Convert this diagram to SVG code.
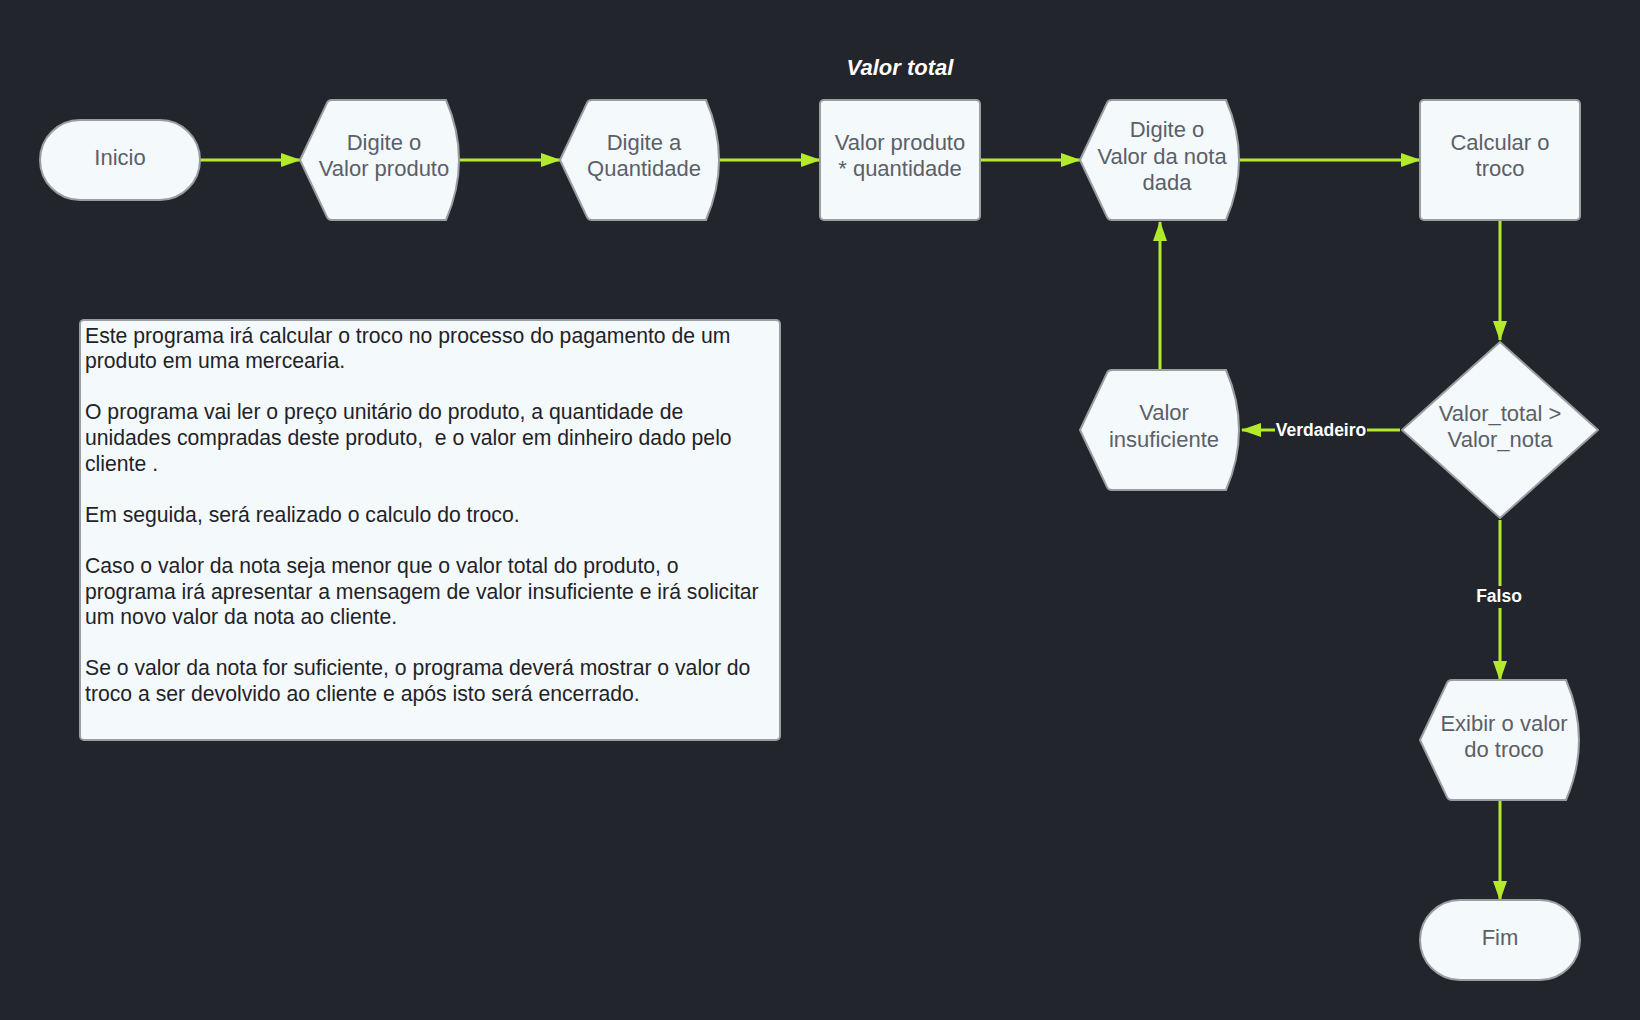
<svg xmlns="http://www.w3.org/2000/svg" width="1640" height="1020" viewBox="0 0 1640 1020">
<defs>
<marker id="ah" viewBox="0 0 20 14" refX="19" refY="7" markerWidth="20" markerHeight="14" markerUnits="userSpaceOnUse" orient="auto">
<path d="M0,0 L20,7 L0,14 Z" fill="#b3ea2c"/>
</marker>
<style>
.n{fill:#f4f9fc;stroke:#9a9ea3;stroke-width:2}
.t{font-family:"Liberation Sans",Arial,sans-serif;font-size:22px;fill:#5b6068;text-anchor:middle}
.c{stroke:#b3ea2c;stroke-width:3;fill:none;marker-end:url(#ah)}
.lb{font-family:"Liberation Sans",Arial,sans-serif;font-size:17.5px;font-weight:bold;fill:#ffffff;text-anchor:middle}
.d{font-family:"Liberation Sans",Arial,sans-serif;font-size:21.2px;fill:#1f2328;white-space:pre}
</style>
</defs>
<rect width="1640" height="1020" fill="#22262c"/>
<text x="900" y="75" font-family="Liberation Sans, Arial, sans-serif" font-size="22" font-weight="bold" font-style="italic" fill="#ffffff" text-anchor="middle">Valor total</text>
<g id="connectors">
<line class="c" x1="200" y1="160" x2="300" y2="160"/>
<line class="c" x1="460" y1="160" x2="560" y2="160"/>
<line class="c" x1="720" y1="160" x2="820" y2="160"/>
<line class="c" x1="980" y1="160" x2="1080" y2="160"/>
<line class="c" x1="1240" y1="160" x2="1420" y2="160"/>
<line class="c" x1="1500" y1="220" x2="1500" y2="340"/>
<line class="c" x1="1400" y1="430" x2="1242" y2="430"/>
<line class="c" x1="1160" y1="370" x2="1160" y2="222"/>
<line class="c" x1="1500" y1="520" x2="1500" y2="680"/>
<line class="c" x1="1500" y1="800" x2="1500" y2="900"/>
<rect x="1275" y="420" width="92" height="20" fill="#22262c"/>
<text class="lb" x="1321" y="436">Verdadeiro</text>
<rect x="1472" y="586" width="56" height="22" fill="#22262c"/>
<text class="lb" x="1499" y="602">Falso</text>
</g>
<g id="inicio">
<rect class="n" x="40" y="120" width="160" height="80" rx="40"/>
<text class="t" x="120" y="165">Inicio</text>
</g>
<g id="digite-valor-produto">
<path class="n" d="M300,160 L327,103 Q328,100 332,100 L446,100 Q472,160 446,220 L332,220 Q328,220 327,217 Z"/>
<text class="t" x="384" y="150">Digite o</text>
<text class="t" x="384" y="176">Valor produto</text>
</g>
<g id="digite-quantidade">
<path class="n" d="M560,160 L587,103 Q588,100 592,100 L706,100 Q732,160 706,220 L592,220 Q588,220 587,217 Z"/>
<text class="t" x="644" y="150">Digite a</text>
<text class="t" x="644" y="176">Quantidade</text>
</g>
<g id="valor-total">
<rect class="n" x="820" y="100" width="160" height="120" rx="4"/>
<text class="t" x="900" y="150">Valor produto</text>
<text class="t" x="900" y="176">* quantidade</text>
</g>
<g id="digite-valor-nota">
<path class="n" d="M1080,160 L1107,103 Q1108,100 1112,100 L1226,100 Q1252,160 1226,220 L1112,220 Q1108,220 1107,217 Z"/>
<text class="t" x="1167" y="137">Digite o</text>
<text class="t" x="1162" y="164">Valor da nota</text>
<text class="t" x="1167" y="190">dada</text>
</g>
<g id="calcular-troco">
<rect class="n" x="1420" y="100" width="160" height="120" rx="4"/>
<text class="t" x="1500" y="150">Calcular o</text>
<text class="t" x="1500" y="176">troco</text>
</g>
<g id="decisao">
<path class="n" d="M1500,342 L1598,430 L1500,518 L1402,430 Z" stroke-linejoin="round"/>
<text class="t" x="1500" y="421">Valor_total &gt;</text>
<text class="t" x="1500" y="447">Valor_nota</text>
</g>
<g id="valor-insuficiente">
<path class="n" d="M1080,430 L1107,373 Q1108,370 1112,370 L1226,370 Q1252,430 1226,490 L1112,490 Q1108,490 1107,487 Z"/>
<text class="t" x="1164" y="420">Valor</text>
<text class="t" x="1164" y="447">insuficiente</text>
</g>
<g id="exibir-troco">
<path class="n" d="M1420,740 L1447,683 Q1448,680 1452,680 L1566,680 Q1592,740 1566,800 L1452,800 Q1448,800 1447,797 Z"/>
<text class="t" x="1504" y="731">Exibir o valor</text>
<text class="t" x="1504" y="757">do troco</text>
</g>
<g id="fim">
<rect class="n" x="1420" y="900" width="160" height="80" rx="40"/>
<text class="t" x="1500" y="945">Fim</text>
</g>
<g id="descricao">
<rect class="n" x="80" y="320" width="700" height="420" rx="4"/>
<text class="d" x="85" y="342.5">Este programa irá calcular o troco no processo do pagamento de um</text>
<text class="d" x="85" y="368.1">produto em uma mercearia.</text>
<text class="d" x="85" y="419.3">O programa vai ler o preço unitário do produto, a quantidade de</text>
<text class="d" x="85" y="444.9">unidades compradas deste produto,&#160; e o valor em dinheiro dado pelo</text>
<text class="d" x="85" y="470.5">cliente .</text>
<text class="d" x="85" y="521.7">Em seguida, será realizado o calculo do troco.</text>
<text class="d" x="85" y="572.9">Caso o valor da nota seja menor que o valor total do produto, o</text>
<text class="d" x="85" y="598.5">programa irá apresentar a mensagem de valor insuficiente e irá solicitar</text>
<text class="d" x="85" y="624.1">um novo valor da nota ao cliente.</text>
<text class="d" x="85" y="675.3">Se o valor da nota for suficiente, o programa deverá mostrar o valor do</text>
<text class="d" x="85" y="700.9">troco a ser devolvido ao cliente e após isto será encerrado.</text>
</g>
</svg>
